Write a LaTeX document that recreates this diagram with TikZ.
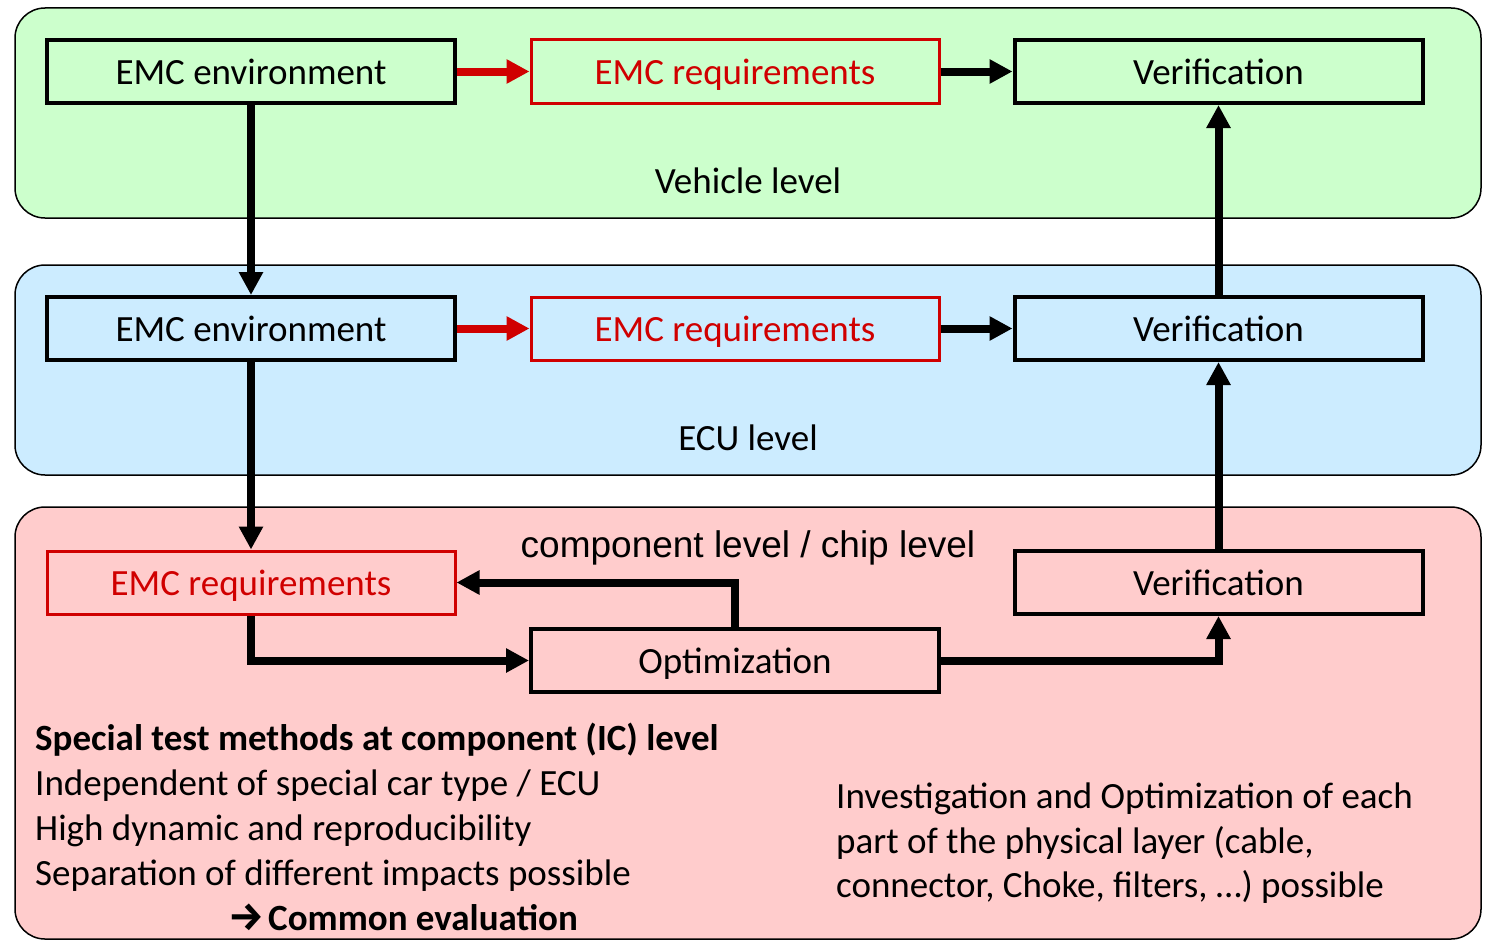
\documentclass[tikz,border=0pt]{standalone}
\usepackage{fontspec}
\setmainfont{Carlito}
\newfontfamily\arialfont{Liberation Sans}
\newfontfamily\firafont{Fira Sans}
\usetikzlibrary{arrows.meta}
\definecolor{pgreen}{HTML}{CCFFCC}
\definecolor{pblue}{HTML}{CCECFF}
\definecolor{ppink}{HTML}{FFCCCC}
\definecolor{ered}{HTML}{D00000}
\begin{document}
\begin{tikzpicture}[x=1pt,y=-1pt,
  panel/.style={draw=black, line width=1.5pt, rounded corners=30pt},
  box/.style={draw=black, line width=4pt, minimum width=408pt, minimum height=63pt, inner sep=0pt, text height=30pt, text depth=5pt, font=\fontsize{37}{44}\selectfont},
  redbox/.style={box, draw=ered, line width=3pt, text=ered},
  arr/.style={line width=8pt, -{Triangle[length=23pt,width=23pt]}},
  redarr/.style={arr, draw=ered, fill=ered},
  lbl/.style={font=\fontsize{37}{44}\selectfont, inner sep=0pt},
  txt/.style={font=\fontsize{37}{44}\selectfont, inner sep=0pt, anchor=base west}
]
\useasboundingbox (0,0) rectangle (1487,942);
\path[panel, fill=pgreen] (15,8) rectangle (1481,218);
\path[panel, fill=pblue] (15,265) rectangle (1481,475);
\path[panel, fill=ppink] (15,507) rectangle (1481,939);

\node[box] (env1) at (251,71.5) {EMC environment};
\node[redbox] (req1) at (735,71.5) {EMC requirements};
\node[box] (ver1) at (1218.5,71.5) {Verification};

\node[box] (env2) at (251,328.5) {EMC environment};
\node[redbox] (req2) at (735,328.5) {EMC requirements};
\node[box] (ver2) at (1218.5,328.5) {Verification};

\node[redbox] (req3) at (251,582.5) {EMC requirements};
\node[box] (ver3) at (1218.5,582.5) {Verification};
\node[box] (opt) at (735,660.5) {Optimization};

\node[lbl] (veh) at (748,181) {Vehicle level};
\node[lbl] (ecu) at (748,438) {ECU level};
\node[lbl, font=\arialfont\fontsize{37}{44}\selectfont] (comp) at (748,548) {component level / chip level};

\draw[redarr] (env1) -- (req1);
\draw[arr] (req1) -- (ver1);
\draw[redarr] (env2) -- (req2);
\draw[arr] (req2) -- (ver2);
\draw[arr] (env1) -- (env2);
\draw[arr] (env2) -- (req3);
\draw[arr] (ver2) -- (ver1);
\draw[arr] (ver3) -- (ver2);
\draw[arr] (opt.north) |- (req3.east);
\draw[arr] (req3.south) |- (opt.west);
\draw[arr] (opt.east) -| (ver3.south);

\node[txt] (t1) at (35,750) {\bfseries Special test methods at component (IC) level};
\node[txt] (t2) at (35,795) {Independent of special car type / ECU};
\node[txt] (t3) at (35,840) {High dynamic and reproducibility};
\node[txt] (t4) at (35,885) {Separation of different impacts possible};
\node[txt] (t5) at (228,930) {{\firafont\bfseries\fontsize{40}{44}\selectfont →}\hspace{4pt}\bfseries Common evaluation};

\node[txt] (r1) at (836,808) {Investigation and Optimization of each};
\node[txt] (r2) at (836,853) {part of the physical layer (cable,};
\node[txt] (r3) at (836,897) {connector, Choke, filters, …) possible};
\end{tikzpicture}
\end{document}
